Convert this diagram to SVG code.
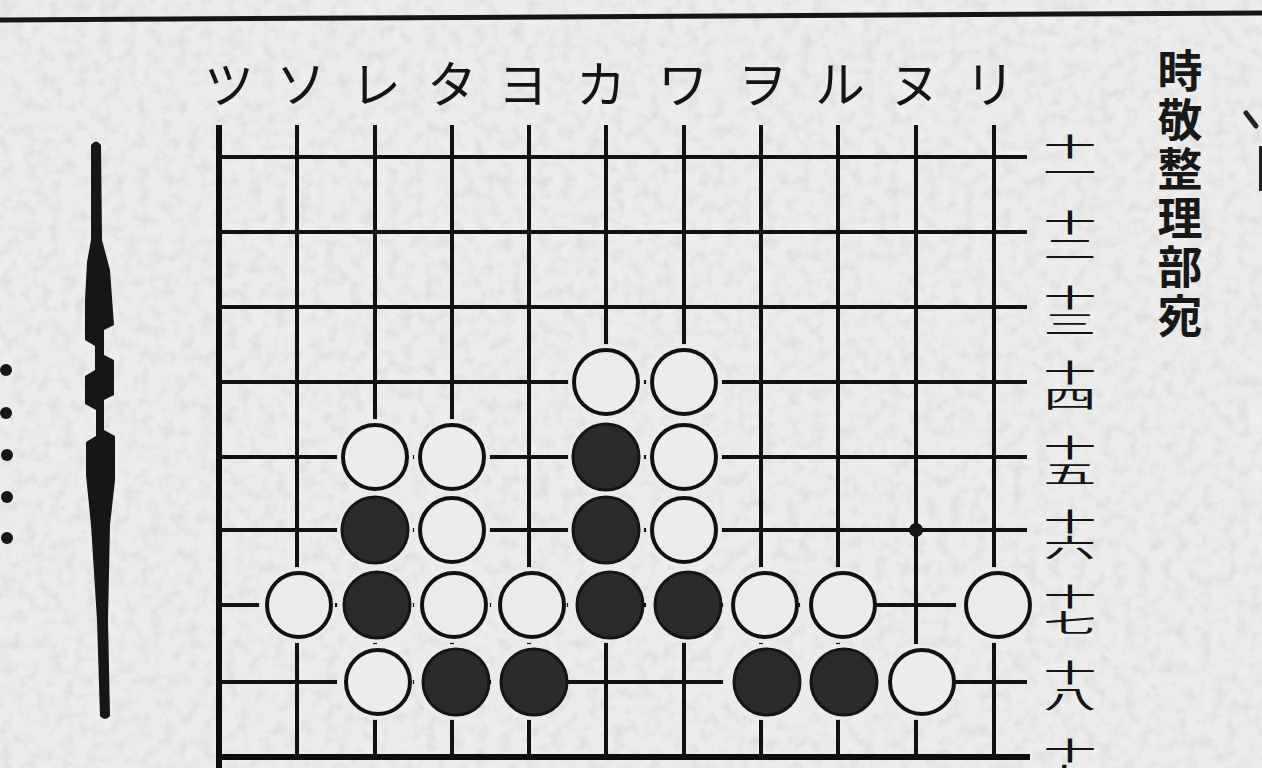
<svg xmlns="http://www.w3.org/2000/svg" width="1262" height="768" viewBox="0 0 1262 768">
<style>
.g{stroke:#111;stroke-width:4;fill:none;stroke-linecap:butt}
.edge{stroke:#0d0d0d;stroke-width:6;fill:none}
.w{fill:#ececec;stroke:#111;stroke-width:4}
.b{fill:#2a2a2a;stroke:#151515;stroke-width:3}
.halo{fill:#ebebeb}
.kana{font-family:"Noto Sans CJK JP","Noto Sans",sans-serif;font-size:50px;fill:#141414;text-anchor:middle}
.num{font-family:"Noto Sans CJK JP",sans-serif;font-size:44px;fill:#141414;text-anchor:middle}
.side{font-family:"Noto Sans CJK JP",sans-serif;font-size:45px;font-weight:700;fill:#181818;text-anchor:middle}
</style>
<defs>
<filter id="paper" x="0" y="0" width="100%" height="100%">
<feTurbulence type="fractalNoise" baseFrequency="0.08" numOctaves="3" seed="4" result="n"/>
<feColorMatrix in="n" type="matrix" values="0 0 0 0 0.55  0 0 0 0 0.55  0 0 0 0 0.55  0 0 0 -1.6 0.9" result="m"/>
<feComposite in="m" in2="SourceGraphic" operator="over"/>
</filter>
</defs>
<rect width="1262" height="768" fill="#ededed"/>
<rect width="1262" height="768" fill="#ededed" filter="url(#paper)" opacity="0.5"/>
<line x1="0" y1="20" x2="1262" y2="13" stroke="#151515" stroke-width="5"/>
<path d="M1246 113 L1256 126" stroke="#222" stroke-width="5" stroke-linecap="round"/>
<rect x="1259" y="146" width="3" height="45" fill="#222"/>
<g id="left-mark">
<path d="M91 145 Q96 138 101 145 L102 240 L110 270 L114 325 L104 330 L104 355 L114 360 L114 395 L104 400 L104 430 L115 436 L115 480 L110 525 L108 620 L110 716 Q105 722 100 716 L97 620 L91 525 L86 475 L86 442 L96 436 L96 410 L85 404 L85 376 L95 370 L95 346 L85 340 L85 300 L87 262 L91 240 Z" fill="#161616"/>
<circle cx="6" cy="370" r="6" fill="#161616"/>
<circle cx="6" cy="413" r="6" fill="#161616"/>
<circle cx="7" cy="455" r="6" fill="#161616"/>
<circle cx="7" cy="497" r="6" fill="#161616"/>
<circle cx="7" cy="538" r="6" fill="#161616"/>
</g>
<g id="grid">
<line class="edge" x1="219" y1="125" x2="219" y2="768"/>
<line class="edge" x1="216" y1="757" x2="1030" y2="757"/>
<g class="g">
<line x1="297" y1="125" x2="297" y2="757"/>
<line x1="375" y1="125" x2="375" y2="757"/>
<line x1="452" y1="125" x2="452" y2="757"/>
<line x1="529" y1="125" x2="529" y2="757"/>
<line x1="606" y1="125" x2="606" y2="757"/>
<line x1="684" y1="125" x2="684" y2="757"/>
<line x1="761" y1="125" x2="761" y2="757"/>
<line x1="838" y1="125" x2="838" y2="757"/>
<line x1="916" y1="125" x2="916" y2="757"/>
<line x1="994" y1="125" x2="994" y2="757"/>
<line x1="219" y1="157" x2="1027" y2="157"/>
<line x1="219" y1="232" x2="1027" y2="232"/>
<line x1="219" y1="307" x2="1027" y2="307"/>
<line x1="219" y1="382" x2="1027" y2="382"/>
<line x1="219" y1="457" x2="1027" y2="457"/>
<line x1="219" y1="530" x2="1027" y2="530"/>
<line x1="219" y1="605" x2="1027" y2="605"/>
<line x1="219" y1="682" x2="1027" y2="682"/>
</g>
<circle cx="916" cy="530" r="7" fill="#161616"/>
</g>
<g id="halos" class="halo">
<circle cx="606" cy="382" r="38"/><circle cx="684" cy="382" r="38"/>
<circle cx="375" cy="457" r="38"/><circle cx="452" cy="457" r="38"/><circle cx="606" cy="457" r="38"/><circle cx="684" cy="457" r="38"/>
<circle cx="375" cy="530" r="38"/><circle cx="452" cy="530" r="38"/><circle cx="606" cy="530" r="38"/><circle cx="684" cy="530" r="38"/>
<circle cx="297" cy="605" r="38"/><circle cx="375" cy="605" r="38"/><circle cx="452" cy="605" r="38"/><circle cx="529" cy="605" r="38"/><circle cx="606" cy="605" r="38"/><circle cx="684" cy="605" r="38"/><circle cx="761" cy="605" r="38"/><circle cx="838" cy="605" r="38"/><circle cx="994" cy="605" r="38"/>
<circle cx="375" cy="682" r="38"/><circle cx="452" cy="682" r="38"/><circle cx="529" cy="682" r="38"/><circle cx="761" cy="682" r="38"/><circle cx="838" cy="682" r="38"/><circle cx="916" cy="682" r="38"/>
</g>
<g id="stones">
<g id="w-ka14"><circle class="w" cx="606" cy="382" r="32"/></g>
<g id="w-wa14"><circle class="w" cx="684" cy="382" r="32"/></g>
<g id="w-re15"><circle class="w" cx="375" cy="457" r="32"/></g>
<g id="w-ta15"><circle class="w" cx="452" cy="457" r="32"/></g>
<g id="b-ka15"><circle class="b" cx="606" cy="457" r="33"/></g>
<g id="w-wa15"><circle class="w" cx="684" cy="457" r="32"/></g>
<g id="b-re16"><circle class="b" cx="375" cy="530" r="33"/></g>
<g id="w-ta16"><circle class="w" cx="452" cy="530" r="32"/></g>
<g id="b-ka16"><circle class="b" cx="606" cy="530" r="33"/></g>
<g id="w-wa16"><circle class="w" cx="684" cy="530" r="32"/></g>
<g id="w-so17"><circle class="w" cx="299" cy="605" r="32"/></g>
<g id="b-re17"><circle class="b" cx="377" cy="605" r="33"/></g>
<g id="w-ta17"><circle class="w" cx="454" cy="605" r="32"/></g>
<g id="w-yo17"><circle class="w" cx="532" cy="605" r="32"/></g>
<g id="b-ka17"><circle class="b" cx="610" cy="605" r="33"/></g>
<g id="b-wa17"><circle class="b" cx="688" cy="605" r="33"/></g>
<g id="w-wo17"><circle class="w" cx="765" cy="605" r="32"/></g>
<g id="w-ru17"><circle class="w" cx="843" cy="605" r="32"/></g>
<g id="w-ri17"><circle class="w" cx="998" cy="605" r="32"/></g>
<g id="w-re18"><circle class="w" cx="378" cy="682" r="32"/></g>
<g id="b-ta18"><circle class="b" cx="456" cy="682" r="33"/></g>
<g id="b-yo18"><circle class="b" cx="534" cy="682" r="33"/></g>
<g id="b-wo18"><circle class="b" cx="767" cy="682" r="33"/></g>
<g id="b-ru18"><circle class="b" cx="844" cy="682" r="33"/></g>
<g id="w-nu18"><circle class="w" cx="922" cy="682" r="32"/></g>
</g>
<g id="col-labels" class="kana">
<text x="229" y="103">ツ</text>
<text x="301" y="103">ソ</text>
<text x="376" y="103">レ</text>
<text x="452" y="103">タ</text>
<text x="523" y="103">ヨ</text>
<text x="601" y="103">カ</text>
<text x="683" y="103">ワ</text>
<text x="762" y="103">ヲ</text>
<text x="840" y="103">ル</text>
<text x="915" y="103">ヌ</text>
<text x="990" y="103">リ</text>
</g>
<g id="row-labels" class="num">
<g transform="translate(1070,158) scale(1.2,0.56)"><text y="-4">十</text><text y="42">一</text></g>
<g transform="translate(1070,234) scale(1.2,0.56)"><text y="-4">十</text><text y="42">二</text></g>
<g transform="translate(1070,309) scale(1.2,0.56)"><text y="-4">十</text><text y="42">三</text></g>
<g transform="translate(1070,384) scale(1.2,0.56)"><text y="-4">十</text><text y="42">四</text></g>
<g transform="translate(1070,459) scale(1.2,0.56)"><text y="-4">十</text><text y="42">五</text></g>
<g transform="translate(1070,533) scale(1.2,0.56)"><text y="-4">十</text><text y="42">六</text></g>
<g transform="translate(1070,608) scale(1.2,0.56)"><text y="-4">十</text><text y="42">七</text></g>
<g transform="translate(1070,684) scale(1.2,0.56)"><text y="-4">十</text><text y="42">八</text></g>
<g transform="translate(1070,762) scale(1.2,0.56)"><text y="-4">十</text><text y="42">九</text></g>
</g>
<g id="side-text" class="side">
<text x="1180" y="88">時</text>
<text x="1180" y="137">敬</text>
<text x="1180" y="186">整</text>
<text x="1180" y="235">理</text>
<text x="1180" y="284">部</text>
<text x="1180" y="333">宛</text>
</g>
</svg>
